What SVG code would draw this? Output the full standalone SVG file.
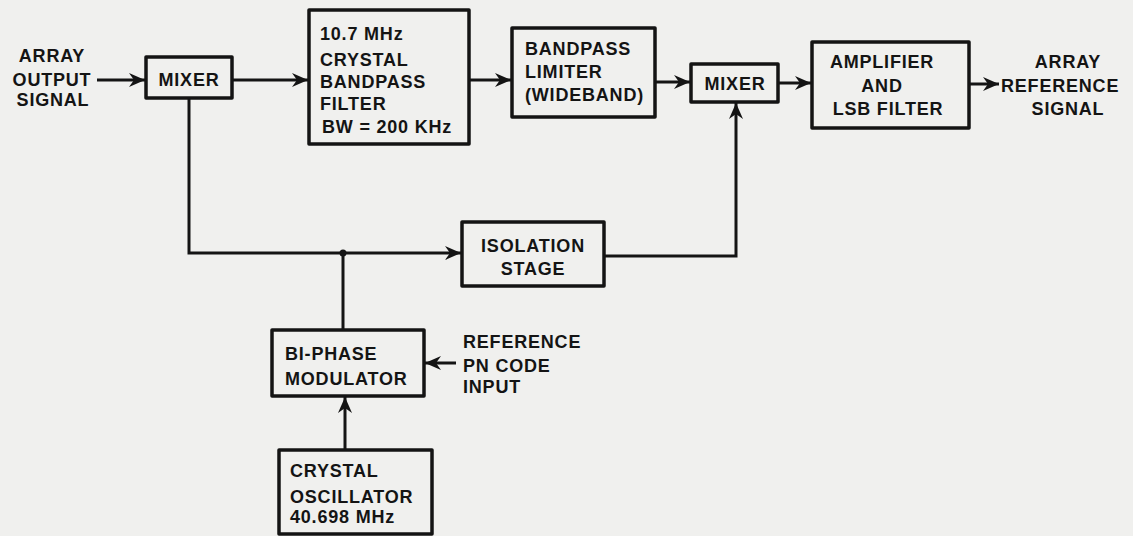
<svg xmlns="http://www.w3.org/2000/svg" width="1133" height="536" viewBox="0 0 1133 536">
<style>
.box{fill:none;stroke:#141414;stroke-width:3.5;stroke-linejoin:round}
.ln{fill:none;stroke:#141414;stroke-width:3}
text{font-family:"Liberation Sans",Arial,sans-serif;font-weight:bold;font-size:18px;fill:#141414;letter-spacing:0.8px}
.c{text-anchor:middle}
</style>
<defs>
<marker id="ah" markerUnits="userSpaceOnUse" markerWidth="18" markerHeight="14" refX="16" refY="7" orient="auto">
<path d="M0,0 L16,7 L0,14 L5,7 z" fill="#141414"/>
</marker>
</defs>
<rect width="1133" height="536" fill="#f0f0ee"/>
<g id="connectors">
<line class="ln" x1="97" y1="80" x2="145" y2="80" marker-end="url(#ah)"/>
<line class="ln" x1="232" y1="80" x2="308" y2="80" marker-end="url(#ah)"/>
<line class="ln" x1="469" y1="80" x2="511" y2="80" marker-end="url(#ah)"/>
<line class="ln" x1="655" y1="82" x2="690" y2="82" marker-end="url(#ah)"/>
<line class="ln" x1="778" y1="83" x2="811" y2="83" marker-end="url(#ah)"/>
<line class="ln" x1="969" y1="84" x2="999" y2="84" marker-end="url(#ah)"/>
<polyline class="ln" points="189,98 189,253 461,253" marker-end="url(#ah)"/>
<circle cx="343" cy="253" r="3.5" fill="#141414"/>
<line class="ln" x1="343" y1="253" x2="343" y2="330"/>
<polyline class="ln" points="604,256 736,256 736,103" marker-end="url(#ah)"/>
<line class="ln" x1="456" y1="363" x2="425" y2="363" marker-end="url(#ah)"/>
<line class="ln" x1="345" y1="450" x2="345" y2="397" marker-end="url(#ah)"/>
</g>
<g id="input-label">
<text class="c" x="52" y="62">ARRAY</text>
<text class="c" x="52" y="86">OUTPUT</text>
<text class="c" x="53" y="106">SIGNAL</text>
</g>
<g id="mixer1">
<rect class="box" x="146" y="57" width="86" height="41"/>
<text class="c" x="189" y="86">MIXER</text>
</g>
<g id="filter">
<rect class="box" x="309" y="10" width="160" height="134"/>
<text x="320" y="40">10.7 MHz</text>
<text x="320" y="66">CRYSTAL</text>
<text x="320" y="88">BANDPASS</text>
<text x="320" y="110">FILTER</text>
<text x="322" y="133">BW = 200 KHz</text>
</g>
<g id="limiter">
<rect class="box" x="512" y="28" width="143" height="89"/>
<text x="525" y="55">BANDPASS</text>
<text x="525" y="78">LIMITER</text>
<text x="525" y="101">(WIDEBAND)</text>
</g>
<g id="mixer2">
<rect class="box" x="691" y="64" width="87" height="38"/>
<text class="c" x="735" y="90">MIXER</text>
</g>
<g id="amplifier">
<rect class="box" x="812" y="42" width="157" height="86"/>
<text class="c" x="882" y="68">AMPLIFIER</text>
<text class="c" x="882" y="92">AND</text>
<text class="c" x="888" y="115">LSB FILTER</text>
</g>
<g id="output-label">
<text class="c" x="1068" y="68">ARRAY</text>
<text x="1001" y="92">REFERENCE</text>
<text class="c" x="1068" y="115">SIGNAL</text>
</g>
<g id="isolation">
<rect class="box" x="462" y="222" width="142" height="64"/>
<text class="c" x="533" y="252">ISOLATION</text>
<text class="c" x="533" y="275">STAGE</text>
</g>
<g id="biphase">
<rect class="box" x="272" y="330" width="152" height="66"/>
<text x="285" y="360">BI-PHASE</text>
<text x="285" y="385">MODULATOR</text>
</g>
<g id="pn-label">
<text x="463" y="348">REFERENCE</text>
<text x="463" y="372">PN CODE</text>
<text x="463" y="393">INPUT</text>
</g>
<g id="oscillator">
<rect class="box" x="279" y="450" width="153" height="84"/>
<text x="290" y="477">CRYSTAL</text>
<text x="290" y="503">OSCILLATOR</text>
<text x="290" y="523">40.698 MHz</text>
</g>
</svg>
